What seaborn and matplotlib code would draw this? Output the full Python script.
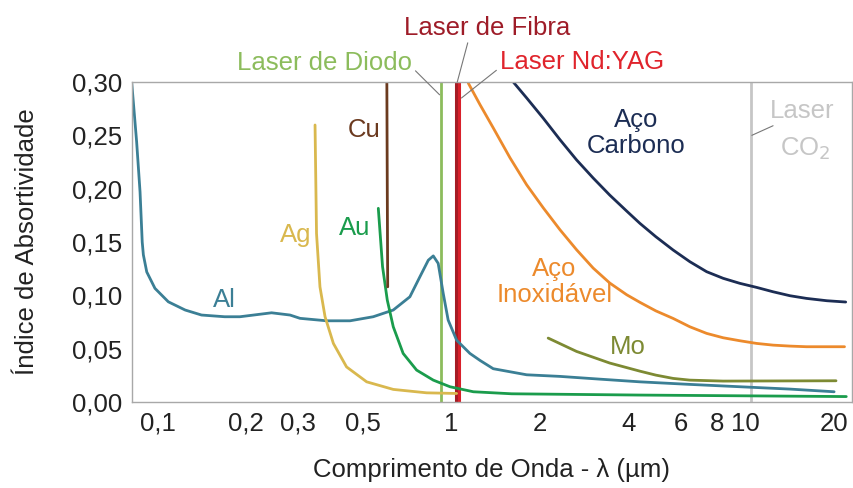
import numpy as np
import pandas as pd
import seaborn as sns
import matplotlib.pyplot as plt

sns.set_style('white')
plt.rcParams['font.family'] = ['Liberation Sans', 'DejaVu Sans']

# Absorptivity curves (wavelength in um, absorptivity index)
al_x = [0.0816, 0.0848, 0.0871, 0.0886, 0.0894, 0.0918, 0.0979, 0.1087, 0.124, 0.141, 0.169,
        0.1905, 0.244, 0.282, 0.305, 0.376, 0.451, 0.541, 0.633, 0.721, 0.780, 0.833, 0.866,
        0.900, 0.936, 0.973, 1.04, 1.154, 1.25, 1.385, 1.80, 2.335, 3.2, 4.37, 6.46, 9.56,
        14.15, 20.0]
al_y = [0.2994, 0.244, 0.197, 0.150, 0.138, 0.122, 0.1066, 0.094, 0.0863, 0.0816, 0.080, 0.080,
        0.0837, 0.0816, 0.0785, 0.0762, 0.0762, 0.080, 0.0863, 0.0987, 0.1175, 0.133, 0.137,
        0.130, 0.102, 0.0769, 0.058, 0.0456, 0.039, 0.0313, 0.0256, 0.0241, 0.0215, 0.019,
        0.0166, 0.0144, 0.0122, 0.0097]

ag_x = [0.343, 0.347, 0.3565, 0.371, 0.396, 0.439, 0.514, 0.633, 0.822, 1.04]
ag_y = [0.2597, 0.158, 0.108, 0.080, 0.055, 0.033, 0.019, 0.0119, 0.0087, 0.0081]

au_x = [0.563, 0.582, 0.604, 0.633, 0.684, 0.760, 0.866, 0.987, 1.185, 1.6, 4.37, 22.0]
au_y = [0.1816, 0.127, 0.0956, 0.0706, 0.0456, 0.030, 0.0206, 0.0144, 0.0097, 0.0078, 0.0066,
        0.0052]

cu_x = [0.602, 0.604, 0.606]
cu_y = [0.300, 0.200, 0.108]

inox_x = [1.139, 1.249, 1.385, 1.579, 1.799, 2.05, 2.335, 2.66, 3.03, 3.45, 3.94, 4.37, 4.95,
          5.67, 6.46, 7.37, 8.39, 9.56, 10.9, 12.4, 14.15, 16.1, 21.7]
inox_y = [0.299, 0.2787, 0.257, 0.229, 0.2037, 0.182, 0.1616, 0.1428, 0.1256, 0.1116, 0.1006,
          0.0935, 0.0855, 0.0784, 0.0706, 0.0644, 0.0603, 0.0575, 0.055, 0.0534, 0.0525, 0.0519,
          0.0519]

carb_x = [1.62, 1.80, 2.05, 2.335, 2.66, 3.03, 3.45, 3.94, 4.37, 4.95, 5.67, 6.46, 7.37, 8.39,
          9.56, 10.9, 12.4, 14.15, 16.1, 18.9, 21.9]
carb_y = [0.300, 0.285, 0.266, 0.246, 0.227, 0.210, 0.194, 0.179, 0.1675, 0.155, 0.1425, 0.1316,
          0.1222, 0.116, 0.1113, 0.1075, 0.1034, 0.0997, 0.0972, 0.095, 0.0938]

mo_x = [2.13, 2.66, 3.45, 4.37, 4.95, 5.67, 6.46, 8.39, 20.3]
mo_y = [0.060, 0.0475, 0.0366, 0.029, 0.0253, 0.0222, 0.0206, 0.0197, 0.020]

# laser wavelengths (um)
diodo_wl = 0.918
fibra_wl = 1.035
ndyag_wl = 1.06
co2_wl = 10.4

xticks = [0.1, 0.2, 0.3, 0.5, 1, 2, 4, 6, 8, 10, 20]
xtick_labels = ['0,1', '0,2', '0,3', '0,5', '1', '2', '4', '6', '8', '10', '20']
yticks = [0.0, 0.05, 0.10, 0.15, 0.20, 0.25, 0.30]
ytick_labels = ['0,00', '0,05', '0,10', '0,15', '0,20', '0,25', '0,30']

fig = plt.figure(figsize=(8.54, 4.88), dpi=100)
ax = fig.add_axes([0.1546, 0.176, 0.843, 0.656])
ax.set_xscale('log')

fs = 18.5
lead = '#777777'

# vertical laser lines
ax.axvline(co2_wl, color='#c6c6c6', lw=2)
ax.axvline(diodo_wl, color='#8cbc5c', lw=2)
ax.axvline(fibra_wl, color='#a51c24', lw=2.2)
ax.axvline(ndyag_wl, color='#d8202a', lw=2.2)

curves = [
    (al_x, al_y, '#3b7f95'),
    (ag_x, ag_y, '#d9b84e'),
    (au_x, au_y, '#1a9c4c'),
    (cu_x, cu_y, '#6b3a1f'),
    (inox_x, inox_y, '#ec8a2c'),
    (carb_x, carb_y, '#1c2d54'),
    (mo_x, mo_y, '#7d8a33'),
]
for xs, ys, c in curves:
    sns.lineplot(x=xs, y=ys, ax=ax, color=c, lw=2, sort=False, solid_joinstyle='round')

# material labels
ax.text(0.169, 0.096, 'Al', color='#3b7f95', fontsize=fs, ha='center', va='center')
ax.text(0.295, 0.157, 'Ag', color='#d9b84e', fontsize=fs, ha='center', va='center')
ax.text(0.468, 0.163, 'Au', color='#1a9c4c', fontsize=fs, ha='center', va='center')
ax.text(0.502, 0.255, 'Cu', color='#6b3a1f', fontsize=fs, ha='center', va='center')
ax.text(4.25, 0.252, 'Aço\nCarbono', color='#1c2d54', fontsize=fs, ha='center', va='center',
        linespacing=1.12)
ax.text(2.24, 0.1125, 'Aço\nInoxidável', color='#ec8a2c', fontsize=fs, ha='center', va='center',
        linespacing=1.12)
ax.text(3.97, 0.052, 'Mo', color='#7d8a33', fontsize=fs, ha='center', va='center')
ax.text(15.6, 0.273, 'Laser', color='#c6c6c6', fontsize=fs, ha='center', va='center')
ax.text(16.0, 0.237, 'CO$_2$', color='#c6c6c6', fontsize=fs, ha='center', va='center')

# laser labels above the plot with leader lines
ax.annotate('Laser de Diodo', xy=(0.91, 0.288), xytext=(0.37, 0.318), color='#8cbc5c',
            fontsize=fs, ha='center', va='center', annotation_clip=False,
            arrowprops=dict(arrowstyle='-', color=lead, lw=0.8, shrinkA=0, shrinkB=0,
                            relpos=(1.0, 0.3)))
ax.annotate('Laser de Fibra', xy=(1.045, 0.300), xytext=(1.318, 0.351), color='#9e1c28',
            fontsize=fs, ha='center', va='center', annotation_clip=False,
            arrowprops=dict(arrowstyle='-', color=lead, lw=0.8, shrinkA=0, shrinkB=0,
                            relpos=(0.39, 0.0)))
ax.annotate('Laser Nd:YAG', xy=(1.08, 0.285), xytext=(2.77, 0.319), color='#e0242c',
            fontsize=fs, ha='center', va='center', annotation_clip=False,
            arrowprops=dict(arrowstyle='-', color=lead, lw=0.8, shrinkA=0, shrinkB=0,
                            relpos=(0.0, 0.25)))
ax.plot([12.4, 10.5], [0.259, 0.25], color=lead, lw=0.8)

ax.set_xlim(0.0818, 23.0)
ax.set_ylim(0, 0.30)
ax.set_xticks(xticks)
ax.set_xticklabels(xtick_labels)
ax.xaxis.set_minor_locator(plt.NullLocator())
ax.set_yticks(yticks)
ax.set_yticklabels(ytick_labels)
ax.tick_params(direction='in', length=5, color='#a8a8a8', labelsize=fs, colors='#a8a8a8',
               labelcolor='#222222', pad=7)
for s in ax.spines.values():
    s.set_color('#a8a8a8')
    s.set_linewidth(1)

ax.set_xlabel('Comprimento de Onda - λ (µm)', fontsize=fs, color='#222222', labelpad=16)
ax.set_ylabel('Índice de Absortividade', fontsize=fs, color='#222222', labelpad=24)

fig.savefig('out.png', dpi=100)
